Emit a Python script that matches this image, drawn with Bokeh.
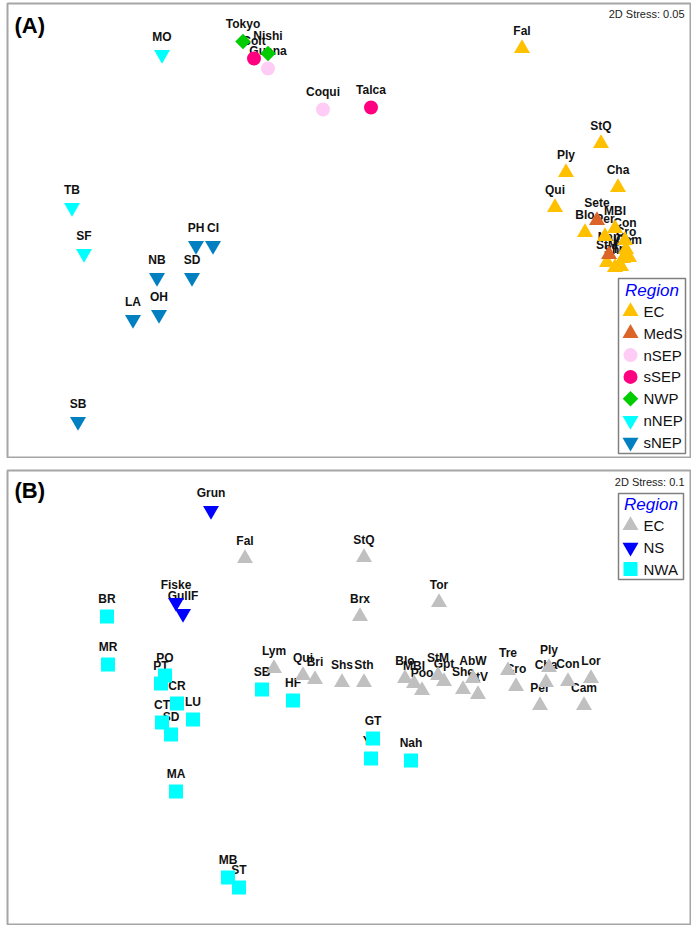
import numpy as np
from bokeh.plotting import figure
from bokeh.models import ColumnDataSource, Range1d, Label
from bokeh.layouts import column
from bokeh.core.properties import value
from bokeh.embed import file_html
from bokeh.resources import INLINE

FONT = "Liberation Sans"

# ---------------- Panel A data (NMDS coordinates) ----------------
a_ec_sites = ["Fal", "StQ", "Ply", "Cha", "Qui", "Blo", "MBI", "Per", "Con", "Cro",
              "Cam", "Lor", "StM", "Tre", "Shc"]
a_ec_x = [1.73, 2.52, 2.17, 2.69, 2.06, 2.36, 2.66, 2.56, 2.76, 2.77,
          2.80, 2.74, 2.58, 2.72, 2.66]
a_ec_y = [1.82, 0.87, 0.58, 0.43, 0.23, -0.02, 0.02, -0.06, -0.10, -0.19,
          -0.27, -0.28, -0.32, -0.36, -0.37]

a_meds_sites = ["Sete", "Nap"]
a_meds_x = [2.48, 2.60]
a_meds_y = [0.10, -0.24]

a_nsep_sites = ["Guana", "Coqui"]
a_nsep_x = [-0.81, -0.26]
a_nsep_y = [1.62, 1.21]

a_ssep_sites = ["Colt", "Talca"]
a_ssep_x = [-0.95, 0.22]
a_ssep_y = [1.72, 1.23]

a_nwp_sites = ["Tokyo", "Nishi"]
a_nwp_x = [-1.06, -0.81]
a_nwp_y = [1.89, 1.77]

a_nnep_sites = ["MO", "TB", "SF"]
a_nnep_x = [-1.87, -2.77, -2.65]
a_nnep_y = [1.76, 0.23, -0.23]

a_snep_sites = ["PH", "CI", "NB", "SD", "LA", "OH", "SB"]
a_snep_x = [-1.53, -1.36, -1.92, -1.57, -2.16, -1.90, -2.71]
a_snep_y = [-0.15, -0.15, -0.47, -0.47, -0.89, -0.84, -1.91]

a_regions = ["EC", "MedS", "nSEP", "sSEP", "NWP", "nNEP", "sNEP"]
a_stress = "2D Stress: 0.05"

# ---------------- Panel B data (NMDS coordinates) ----------------
b_ec_sites = ["Fal", "StQ", "Brx", "Tor", "Lym", "Qui", "Bri", "Shs", "Sth", "Blo",
              "MBI", "Poo", "StM", "Gpt", "Shc", "AbW", "StV", "Tre", "Cro", "Ply",
              "Cha", "Per", "Con", "Lor", "Cam"]
b_ec_x = [-1.04, 0.15, 0.11, 0.90, -0.75, -0.46, -0.34, -0.07, 0.15, 0.56,
          0.65, 0.73, 0.89, 0.95, 1.14, 1.24, 1.29, 1.59, 1.67, 2.00,
          1.97, 1.91, 2.19, 2.42, 2.35]
b_ec_y = [1.39, 1.40, 0.81, 0.95, 0.29, 0.22, 0.18, 0.15, 0.15, 0.19,
          0.14, 0.07, 0.22, 0.16, 0.08, 0.19, 0.03, 0.27, 0.11, 0.30,
          0.15, -0.08, 0.16, 0.19, -0.08]

b_ns_sites = ["Grun", "Fiske", "GullF"]
b_ns_x = [-1.38, -1.73, -1.66]
b_ns_y = [1.87, 0.95, 0.84]

b_nwa_sites = ["BR", "MR", "PO", "PT", "CR", "CT", "SD", "LU", "MA", "MB",
               "ST", "SB", "HF", "GT", "YH", "Nah"]
b_nwa_x = [-2.42, -2.41, -1.84, -1.88, -1.72, -1.87, -1.78, -1.56, -1.73, -1.21,
           -1.10, -0.87, -0.56, 0.24, 0.22, 0.62]
b_nwa_y = [0.81, 0.33, 0.22, 0.14, -0.06, -0.25, -0.37, -0.22, -0.94, -1.80,
           -1.90, 0.08, -0.03, -0.41, -0.61, -0.63]

b_regions = ["EC", "NS", "NWA"]
b_stress = "2D Stress: 0.1"

# ---------------- styles ----------------
STYLE = {
    "EC_A": dict(marker="triangle", color="#FFC000", size=16, angle=0.0),
    "MedS": dict(marker="triangle", color="#DC6428", size=16, angle=0.0),
    "nSEP": dict(marker="circle", color="#FFCCF5", size=14, angle=0.0),
    "sSEP": dict(marker="circle", color="#FF0080", size=14, angle=0.0),
    "NWP": dict(marker="square", color="#00CC00", size=11, angle=np.pi / 4),
    "nNEP": dict(marker="inverted_triangle", color="#00FFFF", size=16, angle=0.0),
    "sNEP": dict(marker="inverted_triangle", color="#0080C0", size=16, angle=0.0),
    "EC_B": dict(marker="triangle", color="#C0C0C0", size=16, angle=0.0),
    "NS": dict(marker="inverted_triangle", color="#0000FF", size=16, angle=0.0),
    "NWA": dict(marker="square", color="#00FFFF", size=14, angle=0.0),
}

# pixel <-> data helpers for layout items (1 unit = 100 px)
def px_x(px):
    return (px - 348.5) / 100.0

def pyA(py):
    return (230.0 - py) / 100.0

def pyB(py):
    return (697.0 - py) / 100.0

FRAME_L, FRAME_R = 7, 690


def make_fig(top_border, frame_h, yr):
    p = figure(width=FRAME_L + (FRAME_R - FRAME_L) + 1, height=top_border + frame_h + 1,
               x_range=Range1d(px_x(FRAME_L), px_x(FRAME_R)),
               y_range=Range1d(*yr), output_backend="svg", toolbar_location=None,
               x_axis_location=None, y_axis_location=None,
               min_border_left=FRAME_L, min_border_right=1,
               min_border_top=top_border, min_border_bottom=1)
    p.grid.visible = False
    p.outline_line_color = "#A6A6A6"
    p.outline_line_width = 2
    p.background_fill_color = "white"
    p.border_fill_color = "white"
    return p


def draw_groups(p, groups):
    srcs = []
    for key, sites, xs, ys in groups:
        srcs.append((key, ColumnDataSource(dict(x=xs, y=ys, site=sites))))
    for key, src in srcs:
        p.text(x="x", y="y", text="site", source=src, text_font=value(FONT),
               text_font_style="bold", text_font_size="12px", text_align="center",
               text_baseline="middle", y_offset=-18, text_color="#111111")
    for key, src in srcs:
        st = STYLE[key]
        p.scatter(x="x", y="y", source=src, marker=st["marker"], size=st["size"],
                  angle=st["angle"], fill_color=st["color"], line_color=None)


def draw_legend(p, fy, keys, names, left, right, top, bottom, title_y, row0, dy):
    p.quad(left=[px_x(left)], right=[px_x(right)], top=[fy(top)], bottom=[fy(bottom)],
           fill_color="white", line_color="#808080", line_width=1.5)
    p.add_layout(Label(x=px_x((left + right) / 2), y=fy(title_y), text="Region",
                       text_font=FONT, text_font_style="italic", text_font_size="17px",
                       text_color="#0000FF", text_align="center", text_baseline="middle"))
    for i, (k, n) in enumerate(zip(keys, names)):
        st = STYLE[k]
        yy = fy(row0 + i * dy)
        p.scatter(x=[px_x(630)], y=[yy], marker=st["marker"], size=st["size"],
                  angle=st["angle"], fill_color=st["color"], line_color=None)
        p.add_layout(Label(x=px_x(643), y=yy, text=n, text_font=FONT,
                           text_font_size="15px", text_color="#111111",
                           text_align="left", text_baseline="middle"))


def draw_titles(p, fy, tag, stress, tag_y, stress_y):
    p.add_layout(Label(x=px_x(14), y=fy(tag_y), text=tag, text_font=FONT,
                       text_font_style="bold", text_font_size="22px", text_color="black",
                       text_align="left", text_baseline="middle"))
    p.add_layout(Label(x=px_x(684), y=fy(stress_y), text=stress, text_font=FONT,
                       text_font_size="11px", text_color="#222222",
                       text_align="right", text_baseline="middle"))


# ---------------- Panel A ----------------
# frame spans page y 3..457
pA = make_fig(3, 454, (pyA(457), pyA(3)))
draw_groups(pA, [
    ("EC_A", a_ec_sites, a_ec_x, a_ec_y),
    ("MedS", a_meds_sites, a_meds_x, a_meds_y),
    ("nSEP", a_nsep_sites, a_nsep_x, a_nsep_y),
    ("sSEP", a_ssep_sites, a_ssep_x, a_ssep_y),
    ("NWP", a_nwp_sites, a_nwp_x, a_nwp_y),
    ("nNEP", a_nnep_sites, a_nnep_x, a_nnep_y),
    ("sNEP", a_snep_sites, a_snep_x, a_snep_y),
])
draw_legend(pA, pyA, ["EC_A", "MedS", "nSEP", "sSEP", "NWP", "nNEP", "sNEP"], a_regions,
            618, 685, 278, 453, 290, 311, 21.8)
draw_titles(pA, pyA, "(A)", a_stress, 25, 13)

# ---------------- Panel B ----------------
# figure B begins at page y 458; frame spans 470..924
pB = make_fig(12, 454, (pyB(924), pyB(470)))
draw_groups(pB, [
    ("EC_B", b_ec_sites, b_ec_x, b_ec_y),
    ("NS", b_ns_sites, b_ns_x, b_ns_y),
    ("NWA", b_nwa_sites, b_nwa_x, b_nwa_y),
])
draw_legend(pB, pyB, ["EC_B", "NS", "NWA"], b_regions,
            618, 683, 493, 579, 504, 525, 21.8)
draw_titles(pB, pyB, "(B)", b_stress, 490, 481)

layout = column(pA, pB, spacing=0)
open("out.html", "w").write(file_html(layout, INLINE))
